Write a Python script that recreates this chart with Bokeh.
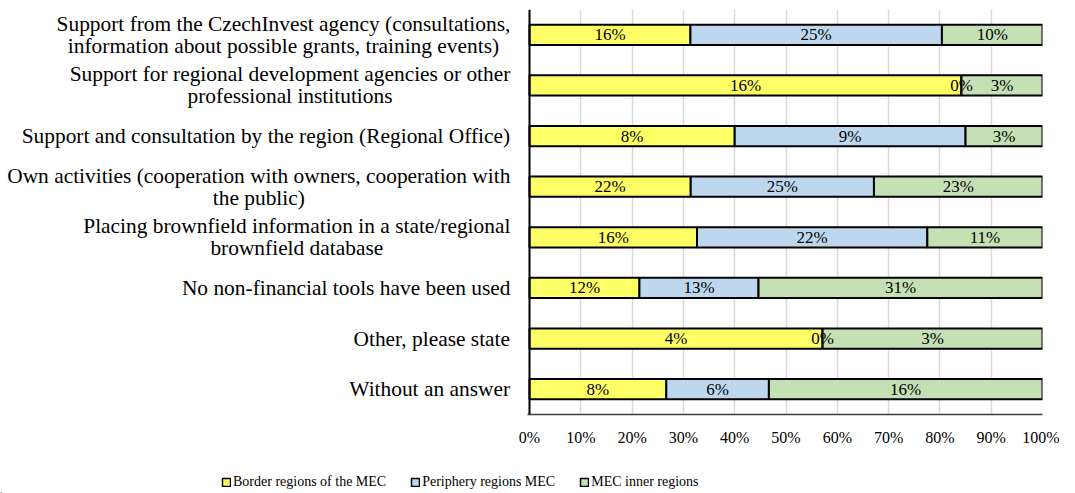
from bokeh.plotting import figure
from bokeh.layouts import row, column
from bokeh.models import (ColumnDataSource, FactorRange, Range1d, FixedTicker,
                          NumeralTickFormatter, Legend, LegendItem, Span)
from bokeh.core.properties import value
from bokeh.embed import file_html
from bokeh.resources import INLINE

categories = [
    "Support from the CzechInvest agency (consultations,\ninformation about possible grants, training events)",
    "Support for regional development agencies or other\nprofessional institutions",
    "Support and consultation by the region (Regional Office)",
    "Own activities (cooperation with owners, cooperation with\nthe public)",
    "Placing brownfield information in a state/regional\nbrownfield database",
    "No non-financial tools have been used",
    "Other, please state",
    "Without an answer",
]
border = [16, 16, 8, 22, 16, 12, 4, 8]
periphery = [25, 0, 9, 25, 22, 13, 0, 6]
inner = [10, 3, 3, 23, 11, 31, 3, 16]
series_names = ["Border regions of the MEC", "Periphery regions MEC", "MEC inner regions"]
colors = ["#FFFF66", "#BDD7EE", "#C5E0B4"]
x_ticks = [i / 10 for i in range(11)]

FONT = "Liberation Serif"
CAT_SIZE = 21.4
LINE_GAP = 22

# Times / Liberation Serif advance widths (per 1000 em) for centring multi-line labels
_W = {" ": 250, "(": 333, ")": 333, ",": 250, "-": 333, "/": 278, ".": 250,
      "a": 444, "b": 500, "c": 444, "d": 500, "e": 444, "f": 333, "g": 500, "h": 500,
      "i": 278, "j": 278, "k": 500, "l": 278, "m": 778, "n": 500, "o": 500, "p": 500,
      "q": 500, "r": 333, "s": 389, "t": 278, "u": 500, "v": 500, "w": 722, "x": 500,
      "y": 500, "z": 444,
      "A": 722, "B": 667, "C": 667, "D": 722, "E": 611, "F": 556, "G": 722, "H": 722,
      "I": 333, "J": 389, "K": 722, "L": 611, "M": 889, "N": 722, "O": 722, "P": 556,
      "Q": 722, "R": 667, "S": 556, "T": 611, "U": 722, "V": 722, "W": 944, "X": 722,
      "Y": 722, "Z": 611}


def text_width(s, size):
    return sum(_W.get(ch, 500) for ch in s) * size / 1000.0


factors = list(reversed(categories))
y_range = FactorRange(factors=factors)

TOP, BOTTOM = 9, 41
LEFT_W = 512
MAIN_LEFT = 15  # frame starts at 527
PAD = 2 / 513   # leaves room for the full width of the left axis line
RIGHT_EDGE = 510  # right edge of category label blocks (page px)

# ---- main chart ----
p = figure(width=1059 - LEFT_W, height=455, output_backend="svg", toolbar_location=None,
           y_range=y_range, x_range=Range1d(-PAD, 1), y_axis_location=None,
           min_border_left=MAIN_LEFT, min_border_right=17, min_border_top=TOP,
           min_border_bottom=BOTTOM)
p.outline_line_color = None

series = [border, periphery, inner]
totals = [sum(v) for v in zip(*series)]
lefts = [0.0] * len(categories)
label_sources = []
for name, vals, col in zip(series_names, series, colors):
    shares = [v / t for v, t in zip(vals, totals)]
    rights = [l + s for l, s in zip(lefts, shares)]
    mids = [(l + r) / 2 for l, r in zip(lefts, rights)]
    src = ColumnDataSource(dict(y=categories, left=lefts, right=rights, mid=mids,
                                lab=[f"{v}%" for v in vals]))
    p.hbar(y="y", left="left", right="right", height=0.4, source=src,
           fill_color=col, line_color="black", line_width=2)
    label_sources.append(src)
    lefts = rights

for src in label_sources:
    p.text(x="mid", y="y", text="lab", source=src, text_align="center",
           text_baseline="middle", text_font=value(FONT), text_font_size="17px",
           text_color="black")

p.xgrid.ticker = FixedTicker(ticks=x_ticks)
p.xgrid.grid_line_color = "#D9D9D9"
p.xgrid.grid_line_width = 1.5
p.ygrid.grid_line_color = None

p.xaxis.ticker = FixedTicker(ticks=x_ticks)
p.xaxis.formatter = NumeralTickFormatter(format="0%")
p.xaxis.major_tick_line_color = None
p.xaxis.minor_tick_line_color = None
p.xaxis.major_tick_out = 0
p.xaxis.axis_line_color = "#404040"
p.xaxis.axis_line_width = 1.5
p.xaxis.major_label_text_font = FONT
p.xaxis.major_label_text_font_size = "16px"
p.xaxis.major_label_text_color = "black"
p.xaxis.major_label_standoff = 14

# vertical (category) axis line at 0 %
p.add_layout(Span(location=0, dimension="height", line_color="black", line_width=2))

# ---- category labels (left panel): each line centred within its block ----
lab = figure(width=LEFT_W, height=455, output_backend="svg", toolbar_location=None,
             y_range=y_range, x_range=Range1d(0, LEFT_W),
             x_axis_location=None, y_axis_location=None,
             min_border_left=0, min_border_right=0, min_border_top=TOP, min_border_bottom=BOTTOM)
lab.outline_line_color = None
lab.grid.grid_line_color = None
lx, ly, lt, loff = [], [], [], []
for c in categories:
    lines = c.split("\n")
    cx = RIGHT_EDGE - max(text_width(l, CAT_SIZE) for l in lines) / 2
    n = len(lines)
    for j, line in enumerate(lines):
        lx.append(cx)
        ly.append(c)
        lt.append(line)
        loff.append((j - (n - 1) / 2) * LINE_GAP)
lab.text(x="x", y="y", text="t", y_offset="off",
         source=ColumnDataSource(dict(x=lx, y=ly, t=lt, off=loff)),
         text_align="center", text_baseline="middle",
         text_font=value(FONT), text_font_size=f"{CAT_SIZE}px", text_color="black")

# ---- legend panel ----
leg = figure(width=1059, height=38, output_backend="svg", toolbar_location=None,
             x_range=Range1d(0, 1059), y_range=Range1d(0, 38),
             x_axis_location=None, y_axis_location=None,
             min_border_left=0, min_border_right=0, min_border_top=0, min_border_bottom=0)
leg.outline_line_color = None
leg.grid.grid_line_color = None
items = []
for name, col in zip(series_names, colors):
    # a single off-screen bar only serves as the legend swatch
    r = leg.hbar(y=[-100], left=[0], right=[1], height=1, fill_color=col,
                 line_color="black", line_width=1.5)
    items.append(LegendItem(label=name, renderers=[r]))
legend = Legend(items=items, orientation="horizontal", location=(221, 3),
                label_text_font=FONT, label_text_font_size="14px", label_text_color="black",
                glyph_width=10, glyph_height=10, label_standoff=2, spacing=24,
                padding=0, margin=0, border_line_color=None, background_fill_alpha=0)
leg.add_layout(legend, "center")

layout = column(row(lab, p, spacing=0), leg, spacing=0)
open("out.html", "w").write(file_html(layout, INLINE))
